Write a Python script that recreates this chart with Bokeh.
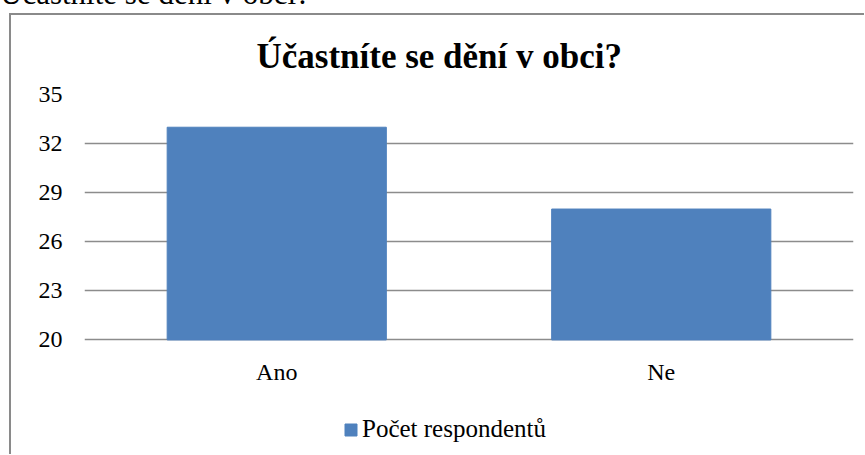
from bokeh.plotting import figure
from bokeh.models import FixedTicker, Legend, LegendItem, Title, Div
from bokeh.layouts import column
from bokeh.embed import file_html
from bokeh.resources import INLINE

# Data
categories = ["Ano", "Ne"]
counts = [33, 28]
series_name = "Počet respondentů"
chart_title = "Účastníte se dění v obci?"
y_ticks = [20, 23, 26, 29, 32, 35]
y_min, y_max = 20, 35
y_view_start = 13  # extra room below the axis for category labels and legend

SERIF = "Liberation Serif"
BAR = "#4F81BD"
GRID = "#8c8c8c"

# caption of the document, mostly scrolled out of view at the top
caption = Div(text=chart_title, width=420, height=34, margin=(-23, 0, 0, 0),
              styles={"font-family": SERIF, "font-size": "31px",
                      "line-height": "34px", "white-space": "nowrap",
                      "color": "black"})

p = figure(
    x_range=categories, y_range=(y_view_start, y_max),
    width=855, height=441,
    output_backend="svg", toolbar_location=None,
    min_border_left=73, min_border_right=13,
    min_border_top=79, min_border_bottom=2,
    background_fill_color="white", border_fill_color="white",
    outline_line_color=None,
    styles={"border-left": "2px solid #8a8a8a", "border-top": "2px solid #8a8a8a"},
)
p.margin = (2, 0, 0, 9)

r = p.vbar(x=categories, top=counts, bottom=y_min, width=0.57,
           fill_color=BAR, line_color=BAR)

p.title = Title(text=chart_title, align="left", offset=172,
                text_font=SERIF, text_font_size="35px", text_font_style="bold",
                text_color="black", standoff=37)

p.yaxis.ticker = FixedTicker(ticks=y_ticks)
p.yaxis.major_label_text_font = SERIF
p.yaxis.major_label_text_font_size = "24px"
p.yaxis.major_label_text_color = "black"
p.yaxis.major_label_standoff = 16
p.yaxis.axis_line_color = None
p.yaxis.major_tick_line_color = None
p.yaxis.minor_tick_line_color = None

p.xaxis.fixed_location = y_min
p.xaxis.major_label_text_font = SERIF
p.xaxis.major_label_text_font_size = "24px"
p.xaxis.major_label_text_color = "black"
p.xaxis.major_label_standoff = 13
p.xaxis.axis_line_color = None
p.xaxis.major_tick_line_color = None

p.xgrid.grid_line_color = None
p.ygrid.grid_line_color = GRID
p.ygrid.grid_line_width = 1.3

legend = Legend(items=[LegendItem(label=series_name, renderers=[r])],
                location=(259, 11), orientation="horizontal",
                border_line_color=None, background_fill_alpha=0,
                padding=0, margin=0, spacing=0,
                glyph_width=15, glyph_height=15, label_standoff=4,
                label_text_font=SERIF, label_text_font_size="25px",
                label_text_color="black")
p.add_layout(legend, "center")

layout = column(caption, p, spacing=0)
open("out.html", "w").write(file_html(layout, INLINE))
